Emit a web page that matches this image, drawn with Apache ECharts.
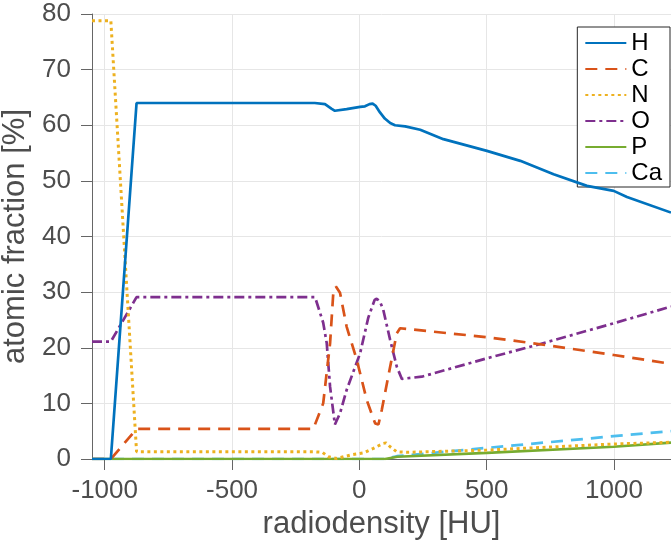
<!DOCTYPE html>
<html>
<head>
<meta charset="utf-8">
<script src="https://cdn.jsdelivr.net/npm/echarts@6/dist/echarts.min.js"></script>
<style>html,body{margin:0;padding:0;background:#fff}#c{width:671px;height:541px}</style>
</head>
<body>
<div id="c"></div>
<script>
const xTicks = [-1000, -500, 0, 500, 1000];
const seriesNames = ['H', 'C', 'N', 'O', 'P', 'Ca'];

const hX = [-1050, -976, -875, -175, -135, -110, -96, -50, 3, 22, 40, 52, 64, 81, 100, 121, 140, 180, 239, 330, 501, 632, 763, 894, 999, 1051, 1224];
const hY = [0, 0, 64, 64, 63.8, 63.0, 62.6, 62.9, 63.3, 63.4, 63.8, 63.9, 63.5, 62.3, 61.2, 60.4, 60.0, 59.8, 59.2, 57.5, 55.4, 53.6, 51.2, 49.1, 48.2, 47.1, 44.3];

const cX = [-1050, -976, -875, -181, -142, -115, -102, -92, -76, -50, -10, 29, 62, 75, 88, 121, 147, 160, 501, 684, 999, 1224];
const cY = [0, 0, 5.4, 5.4, 10.0, 20.8, 30.1, 31.0, 29.9, 23.8, 17.8, 10.6, 6.4, 6.2, 8.8, 16.6, 22.6, 23.5, 21.9, 20.8, 18.7, 17.1];

const nX = [-1050, -976, -875, -175, -145, -122, -89, -36, 16, 55, 94, 105, 121, 147, 186, 501, 999, 1224];
const nY = [78.8, 78.8, 1.3, 1.3, 1.2, 0.4, 0.1, 0.7, 1.1, 1.9, 2.8, 2.9, 2.2, 1.3, 1.2, 1.6, 2.7, 3.0];

const oX = [-1050, -976, -875, -174, -142, -128, -115, -96, -76, -50, 3, 35, 60, 68, 80, 94, 121, 147, 167, 245, 501, 697, 999, 1224];
const oY = [21.1, 21.1, 29.1, 29.1, 24.5, 20.8, 13.0, 6.2, 8.2, 12.4, 19.0, 25.4, 28.6, 28.8, 28.4, 26.8, 21.4, 16.6, 14.4, 14.8, 18.1, 20.5, 24.4, 27.4];

const pX = [-1050, 101, 150, 501, 999, 1224];
const pY = [0, 0, 0.4, 1.1, 2.2, 2.95];

const caX = [-1050, 101, 147, 501, 999, 1224];
const caY = [0, 0, 0.5, 2.0, 4.1, 5.0];

const colors = ['#0072BD', '#D95319', '#EDB120', '#7E2F8E', '#77AC30', '#4DBEEE'];
const dashes = ['solid', [12, 8], [3, 3.5], [10, 4, 3, 4], 'solid', [12, 8]];
const widths = [2.7, 2.7, 3, 2.7, 2.7, 2.7];
const xs = [hX, cX, nX, oX, pX, caX];
const ys = [hY, cY, nY, oY, pY, caY];

const FONT = '"Liberation Sans", Arial, Helvetica, sans-serif';
const chart = echarts.init(document.getElementById('c'), null, {renderer: 'canvas'});

const series = seriesNames.map((name, i) => ({
  name: name,
  type: 'line',
  data: xs[i].map((x, k) => [x, ys[i][k]]),
  showSymbol: false,
  symbol: 'none',
  animation: false,
  color: colors[i],
  lineStyle: {color: colors[i], width: widths[i], type: dashes[i]},
  z: 10 - i
}));

chart.setOption({
  animation: false,
  backgroundColor: '#fff',
  grid: {left: 92, right: 0, top: 14, bottom: 82, containLabel: false, outerBoundsMode: 'none'},
  legend: {
    orient: 'vertical',
    right: 1,
    top: 27,
    backgroundColor: '#fff',
    borderColor: '#262626',
    borderWidth: 1,
    borderRadius: 0,
    padding: [4, 8, 2, 7],
    itemWidth: 41,
    itemHeight: 12,
    itemGap: 2,
    itemStyle: {opacity: 0},
    textStyle: {fontFamily: FONT, fontSize: 24, color: '#000', lineHeight: 24},
    data: seriesNames
  },
  xAxis: {
    type: 'value',
    min: -1050,
    max: 1224,
    name: 'radiodensity [HU]',
    nameLocation: 'middle',
    nameGap: 40,
    nameTextStyle: {fontFamily: FONT, fontSize: 31, color: '#4d4d4d'},
    axisLine: {show: true, onZero: false, lineStyle: {color: '#666', width: 1}},
    axisTick: {show: true, inside: false, length: 11, customValues: xTicks, lineStyle: {color: '#666'}},
    axisLabel: {customValues: xTicks, margin: 19, fontFamily: FONT, fontSize: 26, color: '#4d4d4d', formatter: v => String(v)},
    splitLine: {show: true, lineStyle: {color: '#e6e6e6', width: 1}}
  },
  yAxis: {
    type: 'value',
    min: 0,
    max: 80,
    interval: 10,
    name: 'atomic fraction [%]',
    nameLocation: 'middle',
    nameGap: 52,
    nameTextStyle: {fontFamily: FONT, fontSize: 31, color: '#4d4d4d'},
    axisLine: {show: true, onZero: false, lineStyle: {color: '#666', width: 1}},
    axisTick: {show: true, inside: false, length: 11, lineStyle: {color: '#666'}},
    axisLabel: {margin: 21, fontFamily: FONT, fontSize: 26, color: '#4d4d4d', formatter: v => String(v)},
    splitLine: {show: true, lineStyle: {color: '#e6e6e6', width: 1}}
  },
  series: series
});
</script>
</body>
</html>
